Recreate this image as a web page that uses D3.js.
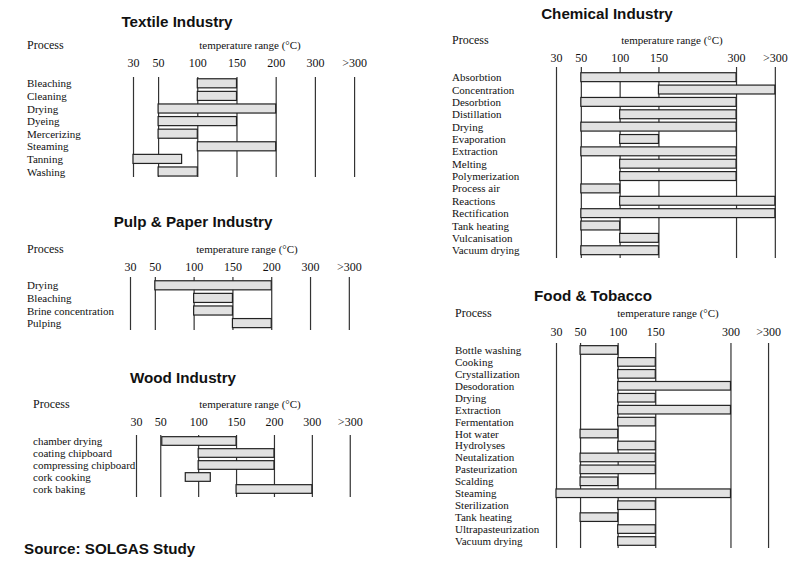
<!DOCTYPE html>
<html>
<head>
<meta charset="utf-8">
<script src="https://cdn.jsdelivr.net/npm/d3@7"></script>
<style>
  body { margin: 0; background: #fff; }
  svg { display: block; }
  .title { font-family: "Liberation Sans", Arial, sans-serif; font-weight: bold; font-size: 15.2px; fill: #111; }
  .lbl { font-family: "Liberation Serif", "Times New Roman", serif; font-size: 11px; fill: #111; }
  .axis text { font-family: "Liberation Serif", "Times New Roman", serif; font-size: 12px; fill: #111; }
  .axis line { stroke: #333; stroke-width: 1.2; }
</style>
</head>
<body>
<div id="canvas"></div>
<script>
// ">300" is stored as 400
const ticksAll = [30, 50, 100, 150, 200, 300, 400];
const ticksNo200 = [30, 50, 100, 150, 300, 400];

const textileProcesses = ["Bleaching", "Cleaning", "Drying", "Dyeing", "Mercerizing", "Steaming", "Tanning", "Washing"];
const textileLow  = [100, 100, 50, 50, 50, 100, 30, 50];
const textileHigh = [150, 150, 200, 150, 100, 200, 80, 100];

const pulpProcesses = ["Drying", "Bleaching", "Brine concentration", "Pulping"];
const pulpLow  = [50, 100, 100, 150];
const pulpHigh = [200, 150, 150, 200];

const woodProcesses = ["chamber drying", "coating chipboard", "compressing chipboard", "cork cooking", "cork baking"];
const woodLow  = [52, 100, 100, 83, 150];
const woodHigh = [150, 200, 200, 116, 300];

const chemProcesses = ["Absorbtion", "Concentration", "Desorbtion", "Distillation", "Drying", "Evaporation",
  "Extraction", "Melting", "Polymerization", "Process air", "Reactions", "Rectification",
  "Tank heating", "Vulcanisation", "Vacuum drying"];
const chemLow  = [50, 150, 50, 100, 50, 100, 50, 100, 100, 50, 100, 50, 50, 100, 50];
const chemHigh = [300, 400, 300, 300, 300, 150, 300, 300, 300, 100, 400, 400, 100, 150, 150];

const foodProcesses = ["Bottle washing", "Cooking", "Crystallization", "Desodoration", "Drying", "Extraction",
  "Fermentation", "Hot water", "Hydrolyses", "Neutalization", "Pasteurization", "Scalding",
  "Steaming", "Sterilization", "Tank heating", "Ultrapasteurization", "Vacuum drying"];
const foodLow  = [50, 100, 100, 100, 100, 100, 100, 50, 100, 50, 50, 50, 30, 100, 50, 100, 100];
const foodHigh = [100, 150, 150, 300, 150, 300, 150, 100, 150, 150, 150, 100, 300, 150, 100, 150, 150];

const width = 800;
const height = 566;

const svg = d3.select("#canvas").append("svg")
  .attr("width", width)
  .attr("height", height);

// unequal spacing: 30-50 is a short step, the rest are one step each
const steps = [0, 0.64, 1.64, 2.64, 3.64, 4.64, 5.64];

function panel(p) {
  const g = svg.append("g");

  const x = d3.scaleLinear()
    .domain(ticksAll)
    .range(steps.map(s => p.x0 + s * p.unit));

  const y = d3.scaleBand()
    .domain(p.processes)
    .range([p.rowTop, p.rowTop + p.row * p.processes.length])
    .paddingInner(0.28)
    .paddingOuter(0.14);

  g.append("text")
    .attr("class", "title")
    .attr("x", p.titleX)
    .attr("y", p.titleY + 6)
    .attr("text-anchor", "middle")
    .text(p.title);

  g.append("text")
    .attr("class", "lbl")
    .style("font-size", "12px")
    .attr("x", p.labelX)
    .attr("y", p.headY + 4)
    .text("Process");

  g.append("text")
    .attr("class", "lbl")
    .attr("x", p.headX)
    .attr("y", p.headY + 4)
    .attr("text-anchor", "middle")
    .text("temperature range (°C)");

  const axis = g.append("g")
    .attr("class", "axis")
    .attr("transform", `translate(0,${p.lineTop})`)
    .call(d3.axisTop(x)
      .tickValues(p.ticks)
      .tickFormat(d => d === 400 ? ">300" : d)
      .tickSize(-(p.lineBottom - p.lineTop))
      .tickPadding(p.lineTop - p.tickY - 4));
  axis.select(".domain").remove();

  g.selectAll("text.proc")
    .data(p.processes)
    .enter()
    .append("text")
    .attr("class", "lbl proc")
    .attr("x", p.labelX)
    .attr("y", d => y(d) + y.bandwidth() / 2 + 4)
    .text(d => d);

  g.selectAll("rect.bar")
    .data(p.processes)
    .enter()
    .append("rect")
    .attr("class", "bar")
    .attr("x", (d, i) => x(p.low[i]))
    .attr("y", d => y(d))
    .attr("width", (d, i) => x(p.high[i]) - x(p.low[i]))
    .attr("height", y.bandwidth())
    .style("fill", "#e2e2e2")
    .style("stroke", "#222")
    .style("stroke-width", 1.2);
}

panel({ title: "Textile Industry", titleX: 177, titleY: 21, labelX: 27, headX: 250, headY: 45,
  tickY: 63, x0: 133, unit: 39.2, rowTop: 77, row: 12.6, lineTop: 77, lineBottom: 177,
  ticks: ticksAll, processes: textileProcesses, low: textileLow, high: textileHigh });

panel({ title: "Pulp & Paper Industry", titleX: 193, titleY: 221, labelX: 27, headX: 247, headY: 249,
  tickY: 267, x0: 130, unit: 38.8, rowTop: 279, row: 12.6, lineTop: 277, lineBottom: 330,
  ticks: ticksAll, processes: pulpProcesses, low: pulpLow, high: pulpHigh });

panel({ title: "Wood Industry", titleX: 183, titleY: 377, labelX: 33, headX: 250, headY: 404,
  tickY: 422, x0: 136, unit: 37.9, rowTop: 435, row: 12, lineTop: 435, lineBottom: 497,
  ticks: ticksAll, processes: woodProcesses, low: woodLow, high: woodHigh });

panel({ title: "Chemical Industry", titleX: 607, titleY: 13, labelX: 452, headX: 672, headY: 40,
  tickY: 58, x0: 556, unit: 38.8, rowTop: 71, row: 12.36, lineTop: 67, lineBottom: 258,
  ticks: ticksNo200, processes: chemProcesses, low: chemLow, high: chemHigh });

panel({ title: "Food & Tobacco", titleX: 593, titleY: 295, labelX: 455, headX: 668, headY: 313,
  tickY: 332, x0: 556, unit: 37.6, rowTop: 344, row: 11.94, lineTop: 343, lineBottom: 548,
  ticks: ticksNo200, processes: foodProcesses, low: foodLow, high: foodHigh });

svg.append("text")
  .attr("class", "title")
  .attr("x", 24)
  .attr("y", 554)
  .text("Source: SOLGAS Study");
</script>
</body>
</html>
